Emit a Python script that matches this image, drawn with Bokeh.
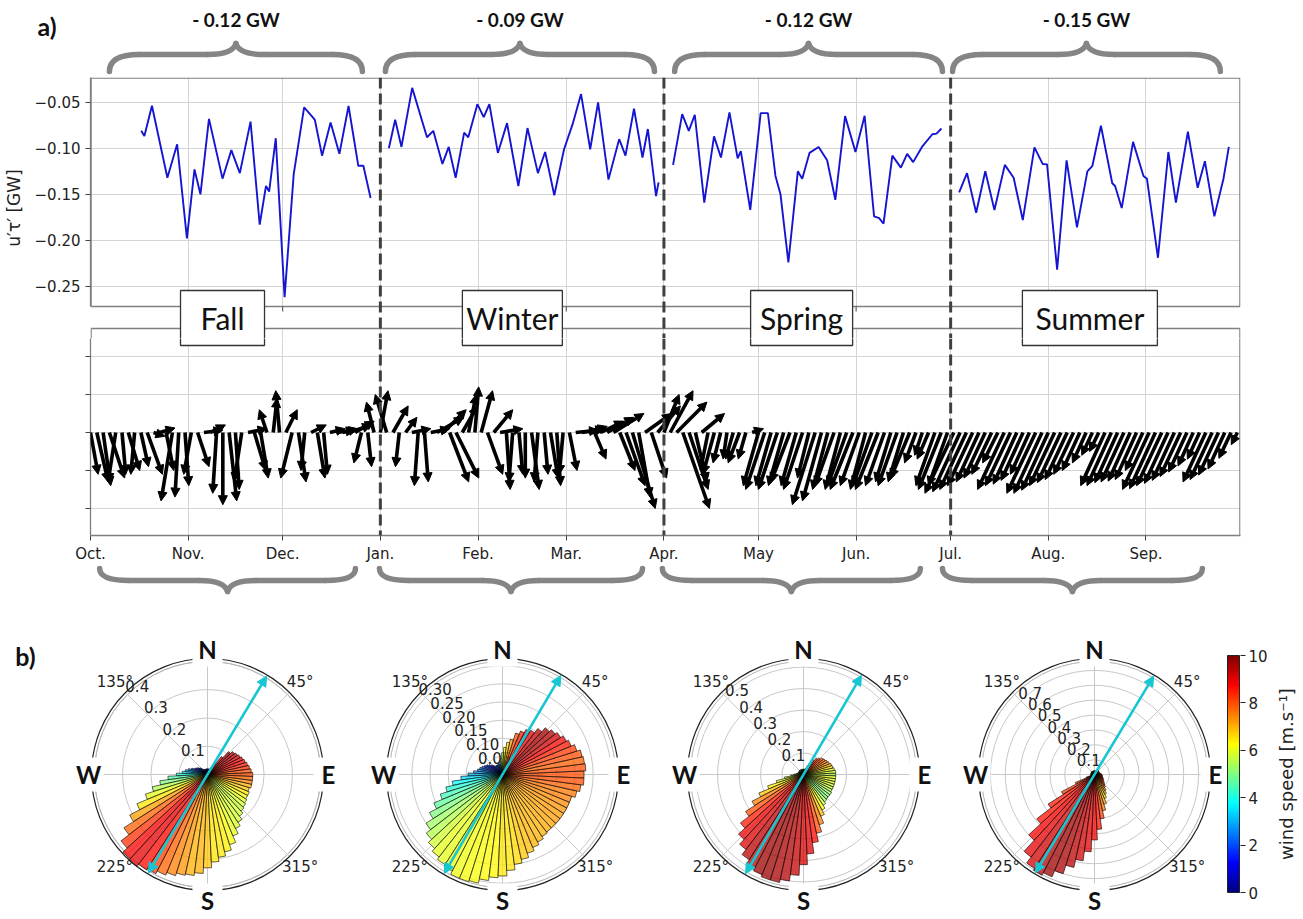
import numpy as np
from bokeh.plotting import figure
from bokeh.models import (Range1d, FixedTicker, Span, Arrow, NormalHead,
                          ColumnDataSource)
from bokeh.layouts import column, row
from bokeh.embed import file_html
from bokeh.resources import INLINE
from bokeh.core.properties import value

# ======================= DATA =======================
season_names = ["Fall", "Winter", "Spring", "Summer"]
season_flux_labels = ["- 0.12 GW", "- 0.09 GW", "- 0.12 GW", "- 0.15 GW"]
season_bounds = [0, 92, 182, 273, 365]          # days since Oct. 1
season_label_day = [41.9, 133.9, 225.7, 317.2]
month_days = [0, 31, 61, 92, 123, 151, 182, 212, 243, 273, 304, 335]
month_labels = ["Oct.", "Nov.", "Dec.", "Jan.", "Feb.", "Mar.", "Apr.", "May",
                "Jun.", "Jul.", "Aug.", "Sep."]
flux_ticks = [-0.25, -0.2, -0.15, -0.1, -0.05]
flux_tick_labels = ["\u22120.25", "\u22120.20", "\u22120.15", "\u22120.10", "\u22120.05"]

# energy flux u'tau' [GW]
fall_day = [16.1, 17.1, 19.5, 24.4, 27.5, 30.6, 33.0, 34.9, 37.6, 41.9, 44.7, 47.4, 50.8,
            53.7, 55.7, 56.7, 58.8, 61.6, 64.5, 67.8, 70.5, 71.2, 73.5, 76.2, 79.0, 81.9,
            85.0, 86.6, 88.9]
fall_flux = [-0.081, -0.0865, -0.0537, -0.132, -0.0956, -0.198, -0.123, -0.150, -0.068,
             -0.133, -0.102, -0.127, -0.071, -0.183, -0.141, -0.147, -0.089, -0.262,
             -0.128, -0.0555, -0.066, -0.069, -0.108, -0.072, -0.106, -0.054, -0.119,
             -0.119, -0.154]
winter_day = [94.7, 96.7, 98.7, 102.1, 106.8, 108.8, 111.7, 113.7, 115.9, 118.6, 119.9,
              122.8, 124.8, 126.6, 129.3, 132.2, 135.8, 138.7, 142.0, 144.3, 147.2, 150.3,
              153.0, 155.7, 158.6, 161.1, 164.4, 167.8, 169.8, 172.5, 175.2, 176.9, 179.5,
              180.3]
winter_flux = [-0.100, -0.069, -0.0985, -0.0343, -0.088, -0.081, -0.117, -0.0985, -0.132,
               -0.083, -0.088, -0.052, -0.066, -0.052, -0.105, -0.0726, -0.141, -0.078,
               -0.127, -0.104, -0.151, -0.101, -0.074, -0.041, -0.101, -0.050, -0.134,
               -0.090, -0.108, -0.057, -0.110, -0.079, -0.152, -0.137]
spring_day = [184.9, 187.8, 189.9, 191.8, 194.8, 197.9, 200.1, 202.8, 205.4, 206.4, 209.4,
              212.7, 215.0, 217.4, 219.0, 221.5, 224.5, 225.9, 228.2, 231.1, 233.8, 236.4,
              239.5, 242.8, 245.7, 248.7, 250.3, 251.7, 254.5, 257.2, 259.2, 261.1, 263.9,
              267.2, 268.5, 270.1]
spring_flux = [-0.118, -0.0628, -0.081, -0.0635, -0.159, -0.087, -0.110, -0.061, -0.111,
               -0.103, -0.167, -0.0617, -0.0617, -0.130, -0.150, -0.224, -0.125, -0.133,
               -0.105, -0.0985, -0.113, -0.156, -0.065, -0.104, -0.0646, -0.174, -0.176,
               -0.182, -0.108, -0.121, -0.106, -0.115, -0.0985, -0.0847, -0.084, -0.0785]
summer_day = [275.7, 278.2, 281.1, 284.0, 286.9, 290.2, 293.0, 295.9, 299.6, 302.2, 303.6,
              306.8, 309.8, 313.1, 316.4, 318.0, 320.7, 324.3, 325.2, 327.3, 330.9, 334.2,
              335.3, 338.8, 342.1, 344.5, 348.3, 351.4, 353.7, 356.7, 359.6, 361.3]
summer_flux = [-0.148, -0.127, -0.170, -0.125, -0.167, -0.118, -0.132, -0.178, -0.099,
               -0.117, -0.1175, -0.232, -0.113, -0.186, -0.125, -0.119, -0.0755, -0.138,
               -0.141, -0.165, -0.093, -0.130, -0.133, -0.219, -0.104, -0.159, -0.082,
               -0.143, -0.114, -0.174, -0.133, -0.0985]

# wind vectors every 2 days [m/s]
wind_day = list(range(0, 365, 2))
wind_u = [1.0, 1.5, 1.0, 2.0, -1.0, 0.5, 1.5, -0.5, 1.0, 2.0, 1.5, 2.0, 1.0, -1.5, -0.5, 0.5,
          -1.0, 1.5, 2.5, 2.0, -0.5, 0.0, 1.0, 0.5, -1.0, 2.5, 1.5, 1.0, -1.0, 0.5, -0.5, 1.5,
          -1.5, 1.0, -0.5, 2.0, 1.0, 0.5, 2.0, 2.5, 2.0, 3.0, 2.5, -1.0, 0.5, -1.0,
          1.0, -1.5, 2.0, -0.5, 1.5, 2.5, -0.5, 0.5, 2.5, 3.5, 3.0, 2.5, 3.0, 2.0, 1.0, 0.5,
          1.5, 2.0, 2.5, 3.0, 0.5, -0.5, 0.5, 0.0, 1.0, -0.5, 0.5, 1.0, 0.5, -0.5, 1.0, 3.0,
          3.0, 2.5, 1.5, 3.0, 3.5, 4.0, 2.0, 2.5, 3.0, 1.5, 3.5, 2.0, 3.0,
          2.0, 3.0, 4.0, 3.5, 2.5, 1.5, 3.0, -1.0, -1.5, -1.0, -0.5, -1.0, -1.5, -1.0, 1.5,
          -2.0, -2.5, -2.0, -2.5, -2.0, -2.5, -2.0, -2.5, -1.5, -3.0, -2.5, -2.0, -2.5, -2.0,
          -2.5, -3.0, -2.5, -2.0, -2.5, -3.0, -2.5, -2.0, -2.5, -2.0, -2.5, -1.5, -1.0, -1.5,
          -2.5, -3.0, -2.5,
          -3.8, -3.6, -3.5, -3.3, -3.0, -2.8, -2.6, -2.0, -3.5, -3.3, -3.1, -2.9, -2.5, -3.8,
          -3.7, -3.5, -3.3, -3.1, -2.9, -2.6, -2.3, -1.8, -1.4, -1.2, -3.2, -3.2, -3.0, -3.0,
          -2.9, -2.8, -2.3, -3.5, -3.4, -3.3, -3.1, -2.9, -2.7, -2.4, -2.0, -1.6, -3.0, -2.9,
          -2.6, -2.2, -1.6, -0.8]
wind_v = [-5.5, -6.5, -7.0, -6.0, -6.5, -5.5, -5.0, -5.5, -4.5, -5.5, -0.5, 0.6, -5.0, -9.0,
          -8.5, -7.0, -5.5, -4.5, 0.3, 1.0, -8.0, -9.5, -9.0, -7.5, -6.5, 0.5, -5.0, -6.0,
          3.0, 4.5, 5.5, 3.0, -6.0, -6.5, -5.0, 1.0, -6.0, -5.5, 0.5, 0.3, 0.5, 1.0, 1.5,
          -4.0, -4.5, 4.0,
          5.5, 5.0, 3.5, -4.5, 2.0, 0.5, -7.0, -6.5, 0.5, 2.0, 3.0, -6.5, -6.0, 3.5, 5.0,
          6.0, 5.5, -5.5, 3.0, 0.5, -7.5, -6.5, -5.5, -6.0, -7.5, -6.5, -5.5, -6.0, -7.0,
          -5.5, -5.0, 0.3, 0.5, 0.8, -3.5, 1.5, 2.0, 2.5, -5.0, -7.0, -10.0, -8.5, 2.5,
          -6.0, 3.5,
          5.0, 5.5, 4.0, -10.0, -7.5, -6.5, 2.5, -5.0, -5.5, -4.0, -3.5, -3.5, -4.0, -3.5,
          0.5, -7.0, -7.5, -7.0, -7.5, -7.0, -6.5, -7.0, -7.5, -6.0, -9.5, -9.0, -7.5, -7.0,
          -7.5, -7.0, -7.5, -7.0, -7.5, -7.0, -7.5, -7.0, -6.5, -7.0, -6.5, -6.0, -4.0,
          -3.0, -3.5, -7.0, -7.5, -7.0,
          -8.0, -7.8, -7.5, -7.0, -6.5, -6.0, -5.5, -4.0, -7.5, -7.0, -6.8, -6.3, -5.5,
          -8.0, -8.0, -7.6, -7.0, -6.6, -6.2, -5.5, -5.0, -4.0, -3.0, -2.5, -7.0, -7.0,
          -6.6, -6.5, -6.4, -6.2, -5.0, -7.5, -7.4, -7.0, -6.7, -6.3, -5.8, -5.2, -4.4,
          -3.5, -6.5, -6.2, -5.6, -4.8, -3.4, -1.6]

# wind roses: 5-degree direction bins (math convention, deg), frequency and mean speed
rose_dirs = list(range(0, 360, 5))
fall_freq = [0.16, 0.155, 0.15, 0.145, 0.14, 0.135, 0.13, 0.125, 0.12, 0.11, 0.08, 0.05,
             0.03, 0.025, 0.02, 0.02, 0.02, 0.02, 0.02, 0.02, 0.02, 0.02, 0.02, 0.02,
             0.02, 0.02, 0.025, 0.03, 0.035, 0.04, 0.045, 0.05, 0.06, 0.07, 0.08, 0.09,
             0.11, 0.14, 0.17, 0.2, 0.23, 0.27, 0.31, 0.35, 0.385, 0.405, 0.41, 0.40,
             0.395, 0.385, 0.375, 0.365, 0.36, 0.35, 0.33, 0.31, 0.295, 0.28, 0.26, 0.235,
             0.215, 0.2, 0.185, 0.175, 0.17, 0.165, 0.16, 0.16, 0.155, 0.16, 0.16, 0.16]
fall_speed = [8.0, 8.0, 8.3, 8.5, 8.7, 9.0, 9.0, 9.3, 9.5, 9.5, 9.0, 8.0,
              6.0, 4.0, 3.0, 3.0, 3.0, 2.5, 2.5, 2.5, 2.0, 2.0, 2.0, 2.0,
              2.0, 2.0, 1.8, 1.5, 1.0, 1.0, 1.2, 1.5, 2.0, 2.5, 3.0, 3.5,
              4.0, 4.5, 5.0, 5.5, 6.0, 6.5, 7.2, 7.8, 8.3, 8.8, 9.0, 8.7,
              8.2, 7.8, 7.5, 7.3, 7.0, 7.0, 6.8, 6.5, 6.5, 6.4, 6.2, 6.0,
              5.9, 5.8, 5.8, 5.7, 5.8, 6.0, 6.2, 6.5, 6.8, 7.0, 7.5, 7.8]
winter_freq = [0.225, 0.23, 0.228, 0.225, 0.215, 0.205, 0.198, 0.19, 0.183, 0.175, 0.16, 0.145,
               0.14, 0.13, 0.12, 0.1, 0.09, 0.075, 0.06, 0.045, 0.035, 0.03, 0.03, 0.03,
               0.03, 0.03, 0.03, 0.035, 0.04, 0.045, 0.05, 0.055, 0.06, 0.065, 0.07, 0.08,
               0.095, 0.115, 0.14, 0.16, 0.18, 0.205, 0.227, 0.25, 0.265, 0.277, 0.287, 0.295,
               0.30, 0.31, 0.31, 0.307, 0.295, 0.285, 0.28, 0.265, 0.25, 0.24, 0.228, 0.218,
               0.21, 0.203, 0.2, 0.2, 0.2, 0.2, 0.2, 0.2, 0.2, 0.21, 0.218, 0.225]
winter_speed = [8.0, 8.0, 7.8, 8.0, 8.2, 8.5, 8.8, 9.2, 9.5, 9.6, 9.3, 9.0,
                8.8, 8.5, 8.0, 7.2, 6.6, 6.2, 6.0, 5.0, 4.0, 3.0, 2.5, 2.5,
                2.5, 2.0, 2.0, 1.5, 1.2, 1.2, 1.5, 1.8, 2.0, 2.3, 2.6, 2.8,
                3.0, 3.4, 3.8, 4.1, 4.4, 4.7, 5.0, 5.3, 5.5, 5.8, 6.0, 6.0,
                6.1, 6.1, 6.2, 6.2, 6.3, 6.3, 6.5, 6.5, 6.6, 6.8, 6.9, 7.0,
                7.0, 7.0, 7.1, 7.1, 7.2, 7.2, 7.3, 7.4, 7.5, 7.6, 7.8, 8.0]
spring_freq = [0.15, 0.15, 0.145, 0.14, 0.137, 0.13, 0.125, 0.12, 0.115, 0.105, 0.095, 0.08,
               0.06, 0.045, 0.03, 0.025, 0.025, 0.025, 0.025, 0.025, 0.025, 0.025, 0.025, 0.025,
               0.025, 0.025, 0.025, 0.025, 0.025, 0.025, 0.025, 0.025, 0.025, 0.025, 0.03, 0.035,
               0.045, 0.06, 0.09, 0.13, 0.175, 0.225, 0.27, 0.32, 0.37, 0.41, 0.44, 0.47,
               0.49, 0.505, 0.515, 0.515, 0.5, 0.47, 0.42, 0.37, 0.32, 0.28, 0.245, 0.21,
               0.186, 0.17, 0.16, 0.155, 0.155, 0.155, 0.15, 0.15, 0.15, 0.15, 0.15, 0.15]
spring_speed = [5.5, 5.8, 6.0, 6.5, 7.0, 7.3, 7.5, 7.8, 8.0, 8.2, 8.5, 8.5,
                8.0, 7.5, 7.0, 6.5, 6.0, 6.0, 5.5, 5.5, 5.0, 5.0, 5.0, 5.0,
                5.0, 5.0, 5.0, 5.0, 5.0, 5.0, 5.0, 5.0, 5.0, 5.0, 5.0, 5.0,
                5.5, 5.5, 5.8, 6.0, 6.3, 6.8, 7.5, 8.0, 8.5, 8.9, 9.1, 9.4,
                9.5, 9.7, 9.7, 9.6, 9.5, 9.3, 9.1, 9.0, 8.7, 8.0, 7.5, 6.8,
                6.2, 5.8, 5.3, 5.0, 5.1, 5.3, 5.5, 5.7, 5.8, 5.9, 6.0, 6.0]
summer_freq = [0.05, 0.045, 0.04, 0.035, 0.035, 0.035, 0.035, 0.035, 0.035, 0.035, 0.035, 0.035,
               0.035, 0.025, 0.025, 0.025, 0.025, 0.025, 0.025, 0.025, 0.025, 0.025, 0.025, 0.025,
               0.025, 0.025, 0.025, 0.025, 0.025, 0.025, 0.025, 0.025, 0.025, 0.025, 0.025, 0.025,
               0.025, 0.025, 0.025, 0.03, 0.06, 0.14, 0.25, 0.37, 0.49, 0.6, 0.7, 0.75,
               0.764, 0.745, 0.7, 0.64, 0.585, 0.52, 0.44, 0.37, 0.3, 0.25, 0.21, 0.175,
               0.15, 0.13, 0.11, 0.095, 0.085, 0.075, 0.07, 0.065, 0.06, 0.055, 0.055, 0.05]
summer_speed = [8.0, 8.0, 8.0, 7.5, 7.5, 7.5, 7.5, 7.5, 7.5, 7.5, 7.5, 7.5,
                7.5, 6.0, 6.0, 6.0, 6.0, 6.0, 6.0, 6.0, 6.0, 6.0, 6.0, 6.0,
                6.0, 6.0, 6.0, 6.0, 6.0, 6.0, 6.0, 6.0, 6.0, 6.0, 6.0, 6.0,
                6.0, 6.0, 6.0, 7.0, 7.5, 8.0, 8.2, 8.5, 8.6, 8.8, 9.0, 9.2,
                9.5, 9.7, 9.6, 9.4, 9.2, 9.0, 8.8, 8.6, 8.2, 7.6, 7.0, 6.6,
                7.0, 7.5, 8.0, 8.2, 8.2, 8.0, 8.0, 8.0, 8.0, 8.0, 8.0, 8.0]
rose_rmax = [0.41, 0.32, 0.54, 0.78]
rose_rticks = [[0.1, 0.2, 0.3, 0.4],
               [0.05, 0.10, 0.15, 0.20, 0.25, 0.30],
               [0.1, 0.2, 0.3, 0.4, 0.5],
               [0.1, 0.2, 0.3, 0.4, 0.5, 0.6, 0.7]]
rose_rlabels = [["0.1", "0.2", "0.3", "0.4"],
                ["0.05", "0.10", "0.15", "0.20", "0.25", "0.30"],
                ["0.1", "0.2", "0.3", "0.4", "0.5"],
                ["0.1", "0.2", "0.3", "0.4", "0.5", "0.6", "0.7"]]
rose_mean_dir = [59, 59.5, 59.7, 59]
speed_ticks = [0, 2, 4, 6, 8, 10]

# ======================= STYLE / GEOMETRY (page pixels) =======================
X0_PX, X1_PX, PAGE_R = 88, 1238, 1300
PX_PER_DAY = (X1_PX - X0_PX) / 365.0
TOP_PX, LINE_BOT_PX, QUIV_TOP_PX, SEAM_PX, FRAME_BOT_PX = 77, 306, 328, 338, 535
LINE_TOP_VAL, LINE_BOT_VAL = -0.023, -0.272
ZERO_PX, PX_PER_UNIT_Q, MS_PER_UNIT = 432, 38.0, 5.0
GRID_C = "#d4d4d4"
SPINE_C = "#7f7f7f"
TXT_C = "#222222"
BRACE_C = "#858585"
BORDERS = dict(min_border_left=X0_PX, min_border_right=PAGE_R - X1_PX)


def line_val(py):
    return LINE_TOP_VAL - (py - TOP_PX) * (LINE_TOP_VAL - LINE_BOT_VAL) / (LINE_BOT_PX - TOP_PX)


def quiv_val(py):
    return (ZERO_PX - py) / PX_PER_UNIT_Q


def jet_hex(f):
    f = min(max(f, 0.0), 1.0)
    r = min(max(1.5 - abs(4 * f - 3), 0), 1)
    g = min(max(1.5 - abs(4 * f - 2), 0), 1)
    b = min(max(1.5 - abs(4 * f - 1), 0), 1)
    return "#%02x%02x%02x" % (int(r * 255), int(g * 255), int(b * 255))


JET = [jet_hex(i / 255.0) for i in range(256)]


def bare(p):
    p.xgrid.visible = False
    p.ygrid.visible = False
    p.outline_line_color = None


def style_axis(ax):
    ax.axis_line_color = SPINE_C
    ax.axis_line_width = 1.3
    ax.major_tick_line_color = "#444444"
    ax.major_tick_out = 5
    ax.major_tick_in = 0
    ax.minor_tick_line_color = None
    ax.major_label_text_font = "DejaVu Sans"
    ax.major_label_text_font_size = "15px"
    ax.major_label_text_color = TXT_C


def draw_brace(p, a, b, y_end, y_flat, y_tip, c=9.5, k=9.0):
    m = (a + b) / 2.0
    kw = dict(line_color=BRACE_C, line_width=5.5, line_cap="round")
    p.quadratic(x0=[a, b, m - k, m + k], y0=[y_end, y_end, y_flat, y_flat],
                x1=[a + c, b - c, m, m], y1=[y_flat, y_flat, y_tip, y_tip],
                cx=[a, b, m - 1.0, m + 1.0], cy=[y_flat, y_flat, y_flat, y_flat], **kw)
    p.segment(x0=[a + c, m + k], y0=[y_flat, y_flat], x1=[m - k, b - c],
              y1=[y_flat, y_flat], **kw)


def season_spans(p):
    for d in season_bounds[1:4]:
        p.add_layout(Span(location=d, dimension="height", line_color="#404040",
                          line_width=3, line_dash="11 5"))


top_brace = [(6.0, 86.3), (93.6, 179.0), (185.4, 270.4), (273.6, 358.6)]
bot_brace = [(2.9, 84.1), (91.7, 175.2), (181.5, 263.4), (270.4, 352.9)]

# ======================= TOP BRACES =======================
T = figure(frame_width=X1_PX - X0_PX, frame_height=TOP_PX, min_border_top=0,
           min_border_bottom=0, x_range=Range1d(0, 365), y_range=Range1d(TOP_PX, 0),
           x_axis_location=None, toolbar_location=None, output_backend="svg", **BORDERS)
bare(T)
T.yaxis.ticker = FixedTicker(ticks=[25])
T.yaxis.major_label_overrides = {25: "a)"}
T.yaxis.axis_line_color = None
T.yaxis.major_tick_line_color = None
T.yaxis.minor_tick_line_color = None
T.yaxis.major_tick_out = 0
T.yaxis.major_label_standoff = 34
T.yaxis.major_label_text_font = "Lato"
T.yaxis.major_label_text_font_style = "bold"
T.yaxis.major_label_text_font_size = "25px"
T.yaxis.major_label_text_color = "#111111"
for a, b in top_brace:
    draw_brace(T, a, b, 71, 54, 43)
T.text(x=[(a + b) / 2 for a, b in top_brace], y=[19] * 4, text=season_flux_labels,
       text_font=value("Lato"), text_font_style="bold", text_font_size="19px",
       text_align="center", text_baseline="middle", text_color="#111111")

# ======================= FLUX PANEL =======================
M = figure(frame_width=X1_PX - X0_PX, frame_height=SEAM_PX - TOP_PX, min_border_top=0,
           min_border_bottom=0, x_range=Range1d(0, 365),
           y_range=Range1d(line_val(SEAM_PX), LINE_TOP_VAL), x_axis_location=None,
           toolbar_location=None, output_backend="svg", **BORDERS)
M.outline_line_color = None
M.yaxis.ticker = FixedTicker(ticks=flux_ticks)
M.yaxis.major_label_overrides = dict(zip(flux_ticks, flux_tick_labels))
M.yaxis.bounds = (LINE_BOT_VAL, LINE_TOP_VAL)
style_axis(M.yaxis)
M.yaxis.axis_label = "u\u2032\u03c4\u2032 [GW]"
M.yaxis.axis_label_text_font = "DejaVu Sans"
M.yaxis.axis_label_text_font_style = "normal"
M.yaxis.axis_label_text_font_size = "17px"
M.yaxis.axis_label_text_color = TXT_C
M.yaxis.axis_label_standoff = 8
M.xgrid.ticker = FixedTicker(ticks=month_days)
M.xgrid.grid_line_color = GRID_C
M.ygrid.grid_line_color = GRID_C

M.quad(left=-5, right=370, bottom=line_val(QUIV_TOP_PX), top=line_val(LINE_BOT_PX),
       fill_color="white", line_color=None)
ex = 0.6 / PX_PER_DAY
M.quad(left=ex, right=365 - ex, bottom=LINE_BOT_VAL, top=line_val(TOP_PX + 0.6),
       fill_color=None, line_color=SPINE_C, line_width=1.3)
M.segment(x0=month_days[1:], y0=[LINE_BOT_VAL] * 11, x1=month_days[1:],
          y1=[line_val(LINE_BOT_PX + 5)] * 11, line_color="#444444", line_width=1)
# top strip of the wind panel
M.segment(x0=[ex, ex, 365 - ex], y0=[line_val(QUIV_TOP_PX)] * 3,
          x1=[365 - ex, ex, 365 - ex], y1=[line_val(QUIV_TOP_PX), line_val(SEAM_PX + 2),
                                           line_val(SEAM_PX + 2)],
          line_color=SPINE_C, line_width=1.3)

for d, f in ((fall_day, fall_flux), (winter_day, winter_flux),
             (spring_day, spring_flux), (summer_day, summer_flux)):
    M.line(d, f, line_color="#1414d2", line_width=1.9)
season_spans(M)

BOX_CY = 317.5
box_w = [84, 100, 102, 135]
M.rect(x=season_label_day, y=[line_val(BOX_CY)] * 4, width=box_w, height=[55] * 4,
       width_units="screen", height_units="screen", fill_color="white",
       line_color="#333333", line_width=1.3)
M.text(x=season_label_day, y=[line_val(BOX_CY)] * 4, text=season_names,
       text_font=value("Lato"), text_font_size="30px", text_align="center",
       text_baseline="middle", text_color="#111111")

# ======================= WIND PANEL =======================
Q = figure(frame_width=X1_PX - X0_PX, frame_height=FRAME_BOT_PX - SEAM_PX, min_border_top=0,
           min_border_bottom=30, x_range=Range1d(0, 365),
           y_range=Range1d(quiv_val(FRAME_BOT_PX), quiv_val(SEAM_PX)),
           toolbar_location=None, output_backend="svg", **BORDERS)
Q.outline_line_color = None
Q.xaxis.ticker = FixedTicker(ticks=month_days)
Q.xaxis.major_label_overrides = dict(zip(month_days, month_labels))
Q.yaxis.ticker = FixedTicker(ticks=[-2, -1, 0, 1, 2])
style_axis(Q.xaxis)
style_axis(Q.yaxis)
Q.yaxis.major_label_text_font_size = "1px"
Q.yaxis.major_label_text_color = None
Q.xaxis.major_label_standoff = 4
Q.xgrid.grid_line_color = GRID_C
Q.ygrid.grid_line_color = GRID_C
Q.segment(x0=[365 - ex], y0=[quiv_val(FRAME_BOT_PX)], x1=[365 - ex], y1=[quiv_val(SEAM_PX - 2)],
          line_color=SPINE_C, line_width=1.3)
Q.rect(x=season_label_day, y=[quiv_val(BOX_CY)] * 4, width=box_w, height=[55] * 4,
       width_units="screen", height_units="screen", fill_color="white",
       line_color="#333333", line_width=1.3)

KU = PX_PER_UNIT_Q / MS_PER_UNIT / PX_PER_DAY   # days per m/s (isotropic arrows)
wd = np.array(wind_day, dtype=float)
wu = np.array(wind_u)
wv = np.array(wind_v)
arrow_src = ColumnDataSource(dict(xs=wd, ys=np.zeros_like(wd), xe=wd + wu * KU,
                                  ye=wv / MS_PER_UNIT))
Q.add_layout(Arrow(x_start="xs", y_start="ys", x_end="xe", y_end="ye", source=arrow_src,
                   line_color="black", line_width=3.6,
                   end=NormalHead(size=9, fill_color="black", line_color="black",
                                  line_width=1)))
season_spans(Q)

# ======================= BOTTOM BRACES =======================
B = figure(frame_width=X1_PX - X0_PX, frame_height=40, min_border_top=0, min_border_bottom=0,
           x_range=Range1d(0, 365), y_range=Range1d(605, 565), x_axis_location=None,
           y_axis_location=None, toolbar_location=None, output_backend="svg", **BORDERS)
bare(B)
for a, b in bot_brace:
    draw_brace(B, a, b, 568, 580, 591)

# ======================= WIND ROSES =======================
ROW_TOP, ROW_H, CY, R_PX = 605, 312, 774, 116
CYAN = "#16c6d2"


def rose_fig(left, width, cx, freq, speed, rmax, rticks, rlabels, mdir, blabel=False):
    s = R_PX / rmax
    p = figure(width=width, height=ROW_H,
               x_range=Range1d((left - cx) / s, (left + width - cx) / s),
               y_range=Range1d(-(ROW_TOP + ROW_H - CY) / s, (CY - ROW_TOP) / s),
               min_border=0, x_axis_location=None, y_axis_location=None,
               toolbar_location=None, output_backend="svg")
    bare(p)
    n = len(rticks)
    p.circle(x=[0] * n, y=[0] * n, radius=rticks, fill_color=None,
             line_color="#c8c8c8", line_width=1)
    p.circle(x=[0], y=[0], radius=[rmax * 0.975], fill_color=None,
             line_color="#b0b0b0", line_width=1)
    th = np.deg2rad(np.arange(0, 360, 45))
    p.segment(x0=np.zeros(8), y0=np.zeros(8), x1=rmax * np.cos(th), y1=rmax * np.sin(th),
              line_color="#c8c8c8", line_width=1)
    la = np.deg2rad(131)
    rt = np.array(rticks)
    p.text(x=rt * np.cos(la) + 4 / s, y=rt * np.sin(la) + 3 / s, text=rlabels,
           text_font=value("DejaVu Sans"), text_font_size="15px", text_align="center",
           text_baseline="middle", text_color=TXT_C)
    d = np.array(rose_dirs, dtype=float)
    cols = [jet_hex(v / 10.0) for v in speed]
    p.wedge(x=0, y=0, radius=freq, start_angle=np.deg2rad(d - 2.5),
            end_angle=np.deg2rad(d + 2.5), fill_color=cols, fill_alpha=0.75,
            line_color="black", line_width=0.7, line_alpha=0.85)
    a = np.deg2rad(mdir)
    rr = rmax * 0.99
    p.add_layout(Arrow(x_start=-rr * np.cos(a), y_start=-rr * np.sin(a),
                       x_end=rr * np.cos(a), y_end=rr * np.sin(a),
                       line_color=CYAN, line_width=2.6,
                       start=NormalHead(size=10, fill_color=CYAN, line_color=CYAN),
                       end=NormalHead(size=10, fill_color=CYAN, line_color=CYAN)))
    p.circle(x=[0], y=[0], radius=[rmax], fill_color=None, line_color="#222222",
             line_width=1.2)
    aa = np.deg2rad([45, 135, 225, 315])
    p.text(x=131 / s * np.cos(aa), y=131 / s * np.sin(aa),
           text=["45\u00b0", "135\u00b0", "225\u00b0", "315\u00b0"],
           text_font=value("DejaVu Sans"), text_font_size="15px", text_align="center",
           text_baseline="middle", text_color=TXT_C)
    lx = np.array([0, 121, 0, -119]) / s
    ly = np.array([125, 0, -126, 0]) / s
    p.rect(x=lx, y=ly, width=[30] * 4, height=[34] * 4, width_units="screen",
           height_units="screen", fill_color="white", line_color=None)
    p.text(x=lx, y=ly, text=["N", "E", "S", "W"], text_font=value("Lato"),
           text_font_style="bold", text_font_size="24px", text_align="center",
           text_baseline="middle", text_color="#111111")
    if blabel:
        p.text(x=[(25 - cx) / s], y=[(CY - 655) / s], text=["b)"], text_font=value("Lato"),
               text_font_style="bold", text_font_size="25px", text_align="center",
               text_baseline="middle", text_color="#111111")
    return p


F1 = rose_fig(0, 355, 207, fall_freq, fall_speed, rose_rmax[0], rose_rticks[0],
              rose_rlabels[0], rose_mean_dir[0], blabel=True)
F2 = rose_fig(355, 297, 502, winter_freq, winter_speed, rose_rmax[1], rose_rticks[1],
              rose_rlabels[1], rose_mean_dir[1])
F3 = rose_fig(652, 298, 803, spring_freq, spring_speed, rose_rmax[2], rose_rticks[2],
              rose_rlabels[2], rose_mean_dir[2])
F4 = rose_fig(950, 275, 1094, summer_freq, summer_speed, rose_rmax[3], rose_rticks[3],
              rose_rlabels[3], rose_mean_dir[3])

# ======================= COLORBAR =======================
CB_TOP, CB_BOT = 655, 892
CB_END = 1268
per_px = 10.0 / (CB_BOT - CB_TOP)
CB = figure(frame_width=14, frame_height=ROW_H, min_border_left=1,
            min_border_right=CB_END - 1240, min_border_top=0, min_border_bottom=0,
            x_range=Range1d(-1 / 12.0, 1 + 1 / 12.0),
            y_range=Range1d(-(ROW_TOP + ROW_H - CB_BOT) * per_px, 10 + (CB_TOP - ROW_TOP) * per_px),
            x_axis_location=None, y_axis_location="right",
            toolbar_location=None, output_backend="svg")
bare(CB)
CB.image(image=[np.linspace(0, 10, 256).reshape(256, 1)], x=0, y=0, dw=1, dh=10,
         palette=JET)
CB.quad(left=0, right=1, bottom=0, top=10, fill_color=None, line_color="#222222",
        line_width=1)
CB.yaxis.ticker = FixedTicker(ticks=speed_ticks)
CB.yaxis.bounds = (0, 10)
style_axis(CB.yaxis)
CB.yaxis.axis_line_color = None
CB.yaxis.major_tick_line_color = "#222222"
CB.yaxis.major_label_standoff = 3

CL_W = PAGE_R - CB_END
CL = figure(width=CL_W, height=ROW_H, x_range=Range1d(0, CL_W),
            y_range=Range1d(0, ROW_H), min_border=0, x_axis_location=None,
            y_axis_location=None, toolbar_location=None, output_backend="svg")
bare(CL)
CL.text(x=[CL_W / 2.0], y=[ROW_TOP + ROW_H - (CB_TOP + CB_BOT) / 2.0],
        text=["wind speed [m.s\u207b\u00b9]"], angle=np.pi / 2,
        text_font=value("DejaVu Sans"), text_font_size="18px", text_align="center",
        text_baseline="middle", text_color=TXT_C)

layout = column(T, M, Q, B, row(F1, F2, F3, F4, CB, CL))
open("out.html", "w").write(file_html(layout, INLINE))
